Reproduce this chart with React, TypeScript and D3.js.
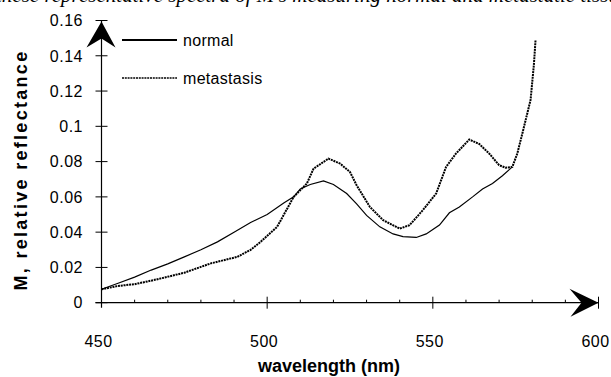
import React, { useEffect, useRef } from 'react';
import * as d3 from 'd3';

// wavelengths (nm) and M values
const normalWl = [450, 455, 460, 465, 470, 475, 480, 485, 490, 495, 500, 505, 508, 510, 513, 517, 520, 524, 527, 530, 534, 538, 541, 545, 548, 552, 555, 558, 562, 565, 568, 571, 574];
const normalM = [0.0076, 0.011, 0.0145, 0.0185, 0.022, 0.026, 0.030, 0.0345, 0.040, 0.0455, 0.050, 0.0565, 0.060, 0.0645, 0.067, 0.069, 0.067, 0.0619, 0.056, 0.0495, 0.043, 0.039, 0.0375, 0.037, 0.039, 0.044, 0.051, 0.0543, 0.060, 0.0645, 0.0676, 0.072, 0.077];

const metaWl = [450, 455, 460, 465, 468, 475, 483, 491, 495, 498, 503, 508, 512, 514, 518.5, 522, 525, 527, 531, 535, 540, 543, 547, 551, 554, 557, 561, 564, 567, 570, 572, 574, 575.5, 577.5, 579.5, 580.5, 581];
const metaM = [0.0076, 0.0095, 0.0105, 0.0125, 0.0138, 0.017, 0.0223, 0.026, 0.030, 0.0345, 0.043, 0.060, 0.0676, 0.076, 0.0817, 0.0789, 0.0741, 0.0666, 0.0543, 0.0468, 0.042, 0.044, 0.0525, 0.0619, 0.077, 0.0846, 0.0925, 0.090, 0.0846, 0.078, 0.0765, 0.077, 0.0846, 0.0996, 0.115, 0.135, 0.149];

const yTicks = [0, 0.02, 0.04, 0.06, 0.08, 0.1, 0.12, 0.14, 0.16];
const yTickLabels = ['0', '0.02', '0.04', '0.06', '0.08', '0.1', '0.12', '0.14', '0.16'];
const xMajor = [450, 500, 550, 600];
const xMinor = [460, 470, 480, 490, 510, 520, 530, 540, 560, 570, 580, 590];
const legendNames = ['normal', 'metastasis'];

const font = '"Liberation Sans", Arial, Helvetica, sans-serif';

const App = () => {
  const ref = useRef<SVGSVGElement | null>(null);

  useEffect(() => {
    const width = 611;
    const height = 377;
    const svg = d3.select(ref.current);
    svg.selectAll('*').remove();
    svg.attr('width', width).attr('height', height);

    const x = d3.scaleLinear().domain([450, 600]).range([101.5, 598.5]);
    const y = d3.scaleLinear().domain([0, 0.16]).range([302.7, 20.5]);

    svg.append('rect').attr('width', width).attr('height', height).attr('fill', 'white');

    // clipped caption from the page above (only its bottom edge shows)
    svg.append('text')
      .attr('x', -4).attr('y', 1.5)
      .style('font-family', '"Liberation Serif", "Times New Roman", serif')
      .style('font-style', 'italic')
      .style('font-size', '21px')
      .text('these representative spectra of M\'s measuring normal and metastatic tissue');

    const g = svg.append('g').attr('stroke', 'black').attr('fill', 'none');

    // axes
    g.append('line').attr('x1', x(450) - 6).attr('x2', x(600)).attr('y1', y(0)).attr('y2', y(0)).attr('stroke-width', 1.2);
    g.append('line').attr('x1', x(450)).attr('x2', x(450)).attr('y1', y(0) + 5).attr('y2', y(0.16)).attr('stroke-width', 1.2);

    // y ticks
    g.selectAll('.yt').data(yTicks).enter().append('line')
      .attr('x1', x(450) - 6).attr('x2', x(450) + 6)
      .attr('y1', d => y(d)).attr('y2', d => y(d)).attr('stroke-width', 1);

    // x ticks
    g.selectAll('.xM').data(xMajor.slice(1)).enter().append('line')
      .attr('x1', d => x(d)).attr('x2', d => x(d))
      .attr('y1', y(0) - 6).attr('y2', y(0) + 6).attr('stroke-width', 1);
    g.selectAll('.xm').data(xMinor).enter().append('line')
      .attr('x1', d => x(d)).attr('x2', d => x(d))
      .attr('y1', y(0) - 3).attr('y2', y(0)).attr('stroke-width', 1);

    // arrowheads
    const ax = x(450);
    const ay = y(0.16) + 1;
    svg.append('path')
      .attr('d', `M${ax},${ay} L${ax + 14},${ay + 26} L${ax},${ay + 17} L${ax - 15},${ay + 26} Z`)
      .attr('fill', 'black');
    const bx = x(600);
    const by = y(0);
    svg.append('path')
      .attr('d', `M${bx},${by} L${bx - 29},${by - 14} L${bx - 17},${by} L${bx - 28},${by + 14} Z`)
      .attr('fill', 'black');

    // tick labels
    svg.selectAll('.yl').data(yTicks).enter().append('text')
      .attr('x', 83).attr('y', d => y(d)).attr('dy', '0.36em')
      .attr('text-anchor', 'end')
      .style('font-family', font).style('font-size', '16px').style('letter-spacing', '0.5px')
      .text((d, i) => yTickLabels[i]);
    svg.selectAll('.xl').data(xMajor).enter().append('text')
      .attr('x', d => x(d) - 3).attr('y', 347)
      .attr('text-anchor', 'middle')
      .style('font-family', font).style('font-size', '16px').style('letter-spacing', '0.5px')
      .text(d => String(d));

    // axis titles
    svg.append('text')
      .attr('x', 329).attr('y', 371.5).attr('text-anchor', 'middle')
      .style('font-family', font).style('font-size', '18px').style('font-weight', 'bold')
      .text('wavelength (nm)');
    svg.append('text')
      .attr('transform', 'translate(26.5,170) rotate(-90)')
      .attr('text-anchor', 'middle')
      .style('font-family', font).style('font-size', '18px').style('font-weight', 'bold')
      .style('letter-spacing', '2.3px')
      .text('M, relative reflectance');

    // lines
    const line = d3.line<[number, number]>().x(d => x(d[0])).y(d => y(d[1]));
    const normal: [number, number][] = normalWl.map((w, i) => [w, normalM[i]]);
    const meta: [number, number][] = metaWl.map((w, i) => [w, metaM[i]]);

    svg.append('path').attr('d', line(normal)).attr('fill', 'none').attr('stroke', 'black').attr('stroke-width', 1.2);
    svg.append('path').attr('d', line(meta)).attr('fill', 'none').attr('stroke', 'black').attr('stroke-width', 2).attr('stroke-dasharray', '2 0.8');

    // legend
    const legendY = [40, 78];
    legendNames.forEach((name, i) => {
      svg.append('line')
        .attr('x1', 122).attr('x2', 177).attr('y1', legendY[i]).attr('y2', legendY[i])
        .attr('stroke', 'black')
        .attr('stroke-width', i === 0 ? 2 : 1.5)
        .attr('stroke-dasharray', i === 0 ? null : '2 0.8');
      svg.append('text')
        .attr('x', 183).attr('y', legendY[i]).attr('dy', '0.36em')
        .style('font-family', font).style('font-size', '16px').style('letter-spacing', '0.3px')
        .text(name);
    });
  }, []);

  return (
    <div style={{ position: 'absolute', left: 0, top: 0 }}>
      <svg ref={ref} style={{ display: 'block' }}></svg>
    </div>
  );
};

export default App;
